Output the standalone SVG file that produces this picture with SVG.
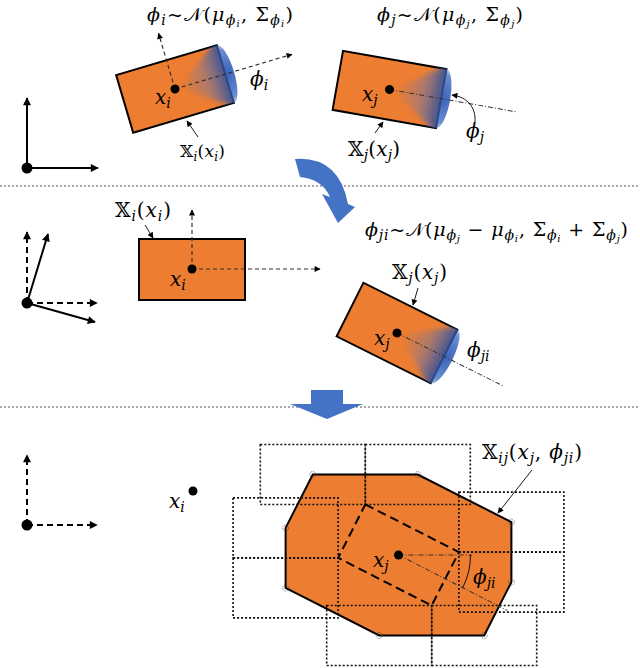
<svg xmlns="http://www.w3.org/2000/svg" width="640" height="668" viewBox="0 0 640 668">
<style>
text{font-family:"DejaVu Serif","Liberation Serif",serif;fill:#000}
.f{font-size:19px}
.l{font-size:20px}
.v{font-style:italic}
.s1{font-size:14px;font-style:italic}
.s2{font-size:10px;font-style:italic}
.box{fill:#ED7D31;stroke:#000;stroke-width:2}
.dash{fill:none;stroke:#333;stroke-width:1.2;stroke-dasharray:4 3}
.dd{fill:none;stroke:#333;stroke-width:1;stroke-dasharray:5 2 1 2}
.ptr{fill:none;stroke:#000;stroke-width:0.9}
.sep{fill:none;stroke:#555;stroke-width:1;stroke-dasharray:2 2}
.ax{fill:none;stroke:#000;stroke-width:2}
.axd{fill:none;stroke:#000;stroke-width:2;stroke-dasharray:6 4}
.dot{fill:none;stroke:#111;stroke-width:1.6;stroke-dasharray:2 2}
.ring{fill:none;stroke:#444;stroke-width:0.8;stroke-dasharray:1 1}
.blue{fill:#4472C4}
</style>
<defs>
<marker id="ah" viewBox="0 0 10 10" refX="9" refY="5" markerWidth="10" markerHeight="8" markerUnits="userSpaceOnUse" orient="auto"><path d="M0,0 L10,5 L0,10 Z" fill="#000"/></marker>
<marker id="as" viewBox="0 0 10 10" refX="9" refY="5" markerWidth="8" markerHeight="6" markerUnits="userSpaceOnUse" orient="auto"><path d="M0,0 L10,5 L0,10 Z" fill="#000"/></marker>
<linearGradient id="fan" gradientUnits="userSpaceOnUse" x1="8" y1="0" x2="52.5" y2="0"><stop offset="0" stop-color="#4472C4" stop-opacity="0"/><stop offset="0.5" stop-color="#6a78b0" stop-opacity="0.4"/><stop offset="1" stop-color="#2f4f9a" stop-opacity="0.9"/></linearGradient>
<radialGradient id="disk" gradientUnits="userSpaceOnUse" cx="52.5" cy="0" r="32"><stop offset="0" stop-color="#3a60b8" stop-opacity="1"/><stop offset="0.75" stop-color="#4472C4" stop-opacity="0.8"/><stop offset="1" stop-color="#4472C4" stop-opacity="0.2"/></radialGradient>
<filter id="soft" x="-20%" y="-20%" width="140%" height="140%"><feGaussianBlur stdDeviation="2.5"/></filter>
<clipPath id="rc"><rect x="-52.5" y="-30" width="105" height="60"/></clipPath>
<g id="gauss"><path d="M52.5,-30 A9,30 0 0 1 52.5,30 Z" fill="url(#disk)"/><g clip-path="url(#rc)"><path d="M4,0 L55,-36 L55,36 Z" fill="url(#fan)" filter="url(#soft)"/></g><line x1="52.5" y1="-30" x2="52.5" y2="30" stroke="#2a4a90" stroke-width="1.5"/></g>
</defs>

<!-- separators -->
<g id="separators">
<line class="sep" x1="0" y1="186" x2="640" y2="186"/>
<line class="sep" x1="0" y1="407" x2="640" y2="407"/>
</g>

<!-- coordinate frames -->
<g id="frame-top">
<line class="ax" x1="27" y1="168" x2="27" y2="98" marker-end="url(#ah)"/>
<line class="ax" x1="27" y1="168" x2="98" y2="168" marker-end="url(#ah)"/>
<circle cx="27" cy="168" r="5.5"/>
</g>
<g id="frame-mid">
<line class="axd" x1="27" y1="303" x2="27" y2="232" marker-end="url(#ah)"/>
<line class="axd" x1="27" y1="303" x2="97" y2="303" marker-end="url(#ah)"/>
<line class="ax" x1="27" y1="303" x2="48" y2="234" marker-end="url(#ah)"/>
<line class="ax" x1="27" y1="303" x2="95" y2="322" marker-end="url(#ah)"/>
<circle cx="27" cy="303" r="5.5"/>
</g>
<g id="frame-bot">
<line class="axd" x1="27" y1="525" x2="27" y2="455" marker-end="url(#ah)"/>
<line class="axd" x1="27" y1="525" x2="97" y2="525" marker-end="url(#ah)"/>
<circle cx="27" cy="525" r="5.5"/>
</g>

<!-- top-left rectangle i -->
<g id="rect-i-top">
<g transform="translate(175,89) rotate(-16.5)">
<rect class="box" x="-52.5" y="-30" width="105" height="60"/>
<use href="#gauss"/>
<line class="dash" x1="0" y1="0" x2="122" y2="0" marker-end="url(#as)"/>
<line class="dash" x1="0" y1="0" x2="0" y2="-58" marker-end="url(#as)"/>
<circle cx="0" cy="0" r="4.5"/>
</g>
<text class="l" x="155" y="104"><tspan class="v">x</tspan><tspan class="s1" dy="4">i</tspan></text>
<text class="l" x="250" y="86"><tspan class="v">ϕ</tspan><tspan class="s1" dy="4">i</tspan></text>
<line class="ptr" x1="198" y1="137" x2="187" y2="121" marker-end="url(#as)"/>
<text x="180" y="157" style="font-size:17px" textLength="45">𝕏<tspan class="s1" dy="4" style="font-size:12px">i</tspan><tspan dy="-4">(</tspan><tspan class="v">x</tspan><tspan class="s1" dy="4" style="font-size:12px">i</tspan><tspan dy="-4">)</tspan></text>
<text class="f" x="147" y="21" textLength="146"><tspan class="v">ϕ</tspan><tspan class="s1" dy="4">i</tspan><tspan dy="-4">~𝒩(</tspan><tspan class="v">μ</tspan><tspan class="s1" dy="4">ϕ</tspan><tspan class="s2" dy="2">i</tspan><tspan dy="-6">, Σ</tspan><tspan class="s1" dy="4">ϕ</tspan><tspan class="s2" dy="2">i</tspan><tspan dy="-6">)</tspan></text>
</g>

<!-- top-right rectangle j -->
<g id="rect-j-top">
<g transform="translate(389.5,89.5) rotate(10)">
<rect class="box" x="-52.5" y="-30" width="105" height="60"/>
<use href="#gauss"/>
<line class="dd" x1="0" y1="0" x2="130" y2="0"/>
<circle cx="0" cy="0" r="4.5"/>
</g>
<text class="l" x="362" y="101"><tspan class="v">x</tspan><tspan class="s1" dy="4">j</tspan></text>
<path class="ptr" d="M475,122 C476,108 468,97 452,95" marker-end="url(#as)"/>
<text class="l" x="466" y="138"><tspan class="v">ϕ</tspan><tspan class="s1" dy="4">j</tspan></text>
<line class="ptr" x1="375" y1="133" x2="383" y2="122" marker-end="url(#as)"/>
<text class="l" x="348" y="156" textLength="52">𝕏<tspan class="s1" dy="4">j</tspan><tspan dy="-4">(</tspan><tspan class="v">x</tspan><tspan class="s1" dy="4">j</tspan><tspan dy="-4">)</tspan></text>
<text class="f" x="377" y="21" textLength="146"><tspan class="v">ϕ</tspan><tspan class="s1" dy="4">j</tspan><tspan dy="-4">~𝒩(</tspan><tspan class="v">μ</tspan><tspan class="s1" dy="4">ϕ</tspan><tspan class="s2" dy="2">j</tspan><tspan dy="-6">, Σ</tspan><tspan class="s1" dy="4">ϕ</tspan><tspan class="s2" dy="2">j</tspan><tspan dy="-6">)</tspan></text>
</g>

<!-- blue curved arrow -->
<g id="arrow-curved">
<path class="blue" d="M295,159 Q339,156 348,204 L355,207 L338,223 L322,194 L330,197 Q322,179 300,177 Z"/>
</g>

<!-- middle rectangle i -->
<g id="rect-i-mid">
<rect class="box" x="139" y="239" width="106" height="61"/>
<line class="dash" x1="192" y1="269" x2="192" y2="210" marker-end="url(#as)"/>
<line class="dash" x1="192" y1="269" x2="320" y2="269" marker-end="url(#as)"/>
<circle cx="192" cy="269" r="4.5"/>
<text class="l" x="170" y="286"><tspan class="v">x</tspan><tspan class="s1" dy="4">i</tspan></text>
<text class="l" x="115" y="217" textLength="56">𝕏<tspan class="s1" dy="4">i</tspan><tspan dy="-4">(</tspan><tspan class="v">x</tspan><tspan class="s1" dy="4">i</tspan><tspan dy="-4">)</tspan></text>
<line class="ptr" x1="145" y1="225" x2="153" y2="238" marker-end="url(#as)"/>
</g>

<!-- middle rectangle j -->
<g id="rect-j-mid">
<g transform="translate(397,333) rotate(26.5)">
<rect class="box" x="-52.5" y="-30" width="105" height="60"/>
<use href="#gauss"/>
<line class="dd" x1="0" y1="0" x2="120" y2="0"/>
<circle cx="0" cy="0" r="4.5"/>
</g>
<text class="l" x="374" y="345"><tspan class="v">x</tspan><tspan class="s1" dy="4">j</tspan></text>
<text class="l" x="467" y="357"><tspan class="v">ϕ</tspan><tspan class="s1" dy="4">ji</tspan></text>
<text class="l" x="392" y="279" textLength="55">𝕏<tspan class="s1" dy="4">j</tspan><tspan dy="-4">(</tspan><tspan class="v">x</tspan><tspan class="s1" dy="4">j</tspan><tspan dy="-4">)</tspan></text>
<line class="ptr" x1="418" y1="288" x2="413" y2="305" marker-end="url(#as)"/>
<text class="f" x="365" y="236" textLength="263"><tspan class="v">ϕ</tspan><tspan class="s1" dy="4">ji</tspan><tspan dy="-4">~𝒩(</tspan><tspan class="v">μ</tspan><tspan class="s1" dy="4">ϕ</tspan><tspan class="s2" dy="2">j</tspan><tspan dy="-6"> − </tspan><tspan class="v">μ</tspan><tspan class="s1" dy="4">ϕ</tspan><tspan class="s2" dy="2">i</tspan><tspan dy="-6">, Σ</tspan><tspan class="s1" dy="4">ϕ</tspan><tspan class="s2" dy="2">i</tspan><tspan dy="-6"> + Σ</tspan><tspan class="s1" dy="4">ϕ</tspan><tspan class="s2" dy="2">j</tspan><tspan dy="-6">)</tspan></text>
</g>

<!-- blue block arrow -->
<g id="arrow-down">
<path class="blue" d="M311,390 L343,390 L343,404 L363,404 L327,419 L290,404 L311,404 Z"/>
</g>

<!-- bottom: xi point -->
<g id="point-i-bot">
<circle cx="193" cy="491" r="4.5"/>
<text class="l" x="169" y="508"><tspan class="v">x</tspan><tspan class="s1" dy="4">i</tspan></text>
</g>

<!-- bottom region X_ij -->
<g id="region-ij">
<polygon class="box" points="312.8,474.5 417.8,474.5 511.4,522.1 511.4,582.1 484.2,635.5 379.2,635.5 285.6,587.9 285.6,527.9"/>
<rect class="dot" x="260.3" y="444.5" width="105" height="60"/>
<rect class="dot" x="365.3" y="444.5" width="105" height="60"/>
<rect class="dot" x="233.1" y="497.9" width="105" height="60"/>
<rect class="dot" x="233.1" y="557.9" width="105" height="60"/>
<rect class="dot" x="458.9" y="492.1" width="105" height="60"/>
<rect class="dot" x="458.9" y="552.1" width="105" height="60"/>
<rect class="dot" x="326.7" y="605.5" width="105" height="60"/>
<rect class="dot" x="431.7" y="605.5" width="105" height="60"/>
<circle class="ring" cx="312.8" cy="474.5" r="3"/>
<circle class="ring" cx="417.8" cy="474.5" r="3"/>
<circle class="ring" cx="511.4" cy="522.1" r="3"/>
<circle class="ring" cx="511.4" cy="582.1" r="3"/>
<circle class="ring" cx="484.2" cy="635.5" r="3"/>
<circle class="ring" cx="379.2" cy="635.5" r="3"/>
<circle class="ring" cx="285.6" cy="587.9" r="3"/>
<circle class="ring" cx="285.6" cy="527.9" r="3"/>
<g transform="translate(398.5,555) rotate(27)">
<rect x="-52.5" y="-30" width="105" height="60" fill="none" stroke="#000" stroke-width="2" stroke-dasharray="9 5"/>
<line class="dd" x1="0" y1="0" x2="122" y2="0"/>
</g>
<line class="dd" x1="398.5" y1="555" x2="472" y2="555"/>
<path class="ptr" d="M470.5,555 A72,72 0 0 1 462.7,587.7"/>
<circle cx="398.5" cy="555" r="4.5"/>
<text class="l" x="373" y="567"><tspan class="v">x</tspan><tspan class="s1" dy="4">j</tspan></text>
<text class="l" x="473" y="584"><tspan class="v">ϕ</tspan><tspan class="s1" dy="4">ji</tspan></text>
<text class="l" x="482" y="459" textLength="100">𝕏<tspan class="s1" dy="4">ij</tspan><tspan dy="-4">(</tspan><tspan class="v">x</tspan><tspan class="s1" dy="4">j</tspan><tspan dy="-4">, </tspan><tspan class="v">ϕ</tspan><tspan class="s1" dy="4">ji</tspan><tspan dy="-4">)</tspan></text>
<line class="ptr" x1="532" y1="470" x2="498" y2="513" marker-end="url(#as)"/>
</g>
</svg>
